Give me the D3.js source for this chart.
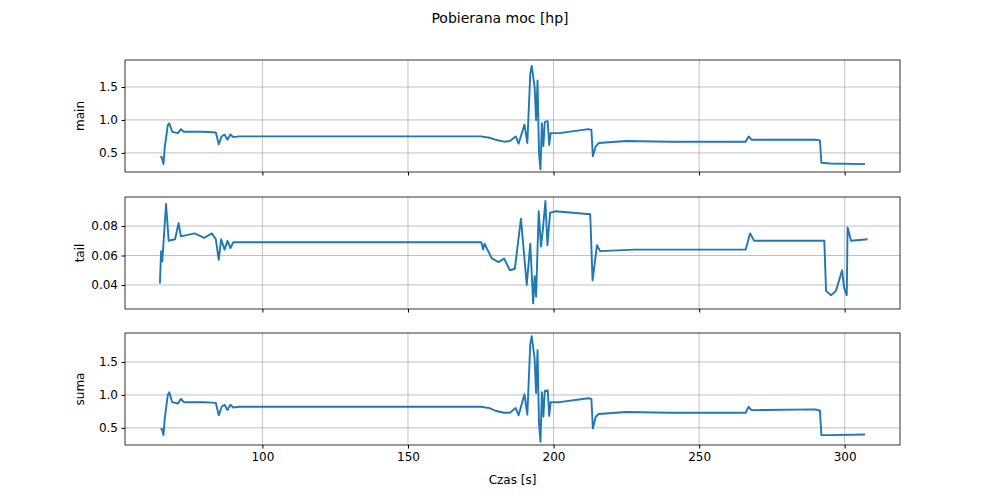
<!DOCTYPE html>
<html><head><meta charset="utf-8">
<script src="https://cdn.jsdelivr.net/npm/d3@7"></script>
<style>body{margin:0;background:#fff}text{font-family:"DejaVu Sans",sans-serif}</style>
</head><body><div id="container"></div>
<script>
// main power, time [s] / value [hp]
const mainT = [65,65.5,66,66.5,67.5,68,69,71,72,73,80,84,85,86,87,88,89,90,92,175,178,180,183,185,187,188,190,191,192,192.5,193.5,194,194.5,195,195.5,196,196.5,197,198,198.5,199,202,212,213,213.5,214.5,215.5,225,240,266,267,268,290,291.5,292,295,307];
const mainV = [0.45,0.42,0.33,0.6,0.92,0.95,0.82,0.8,0.86,0.82,0.82,0.81,0.63,0.75,0.78,0.7,0.78,0.74,0.75,0.75,0.73,0.7,0.67,0.68,0.75,0.64,0.93,0.65,1.7,1.82,1.5,1.0,1.6,0.5,0.25,0.95,0.6,0.97,0.98,0.62,0.8,0.8,0.86,0.85,0.45,0.6,0.65,0.68,0.67,0.67,0.75,0.7,0.7,0.69,0.35,0.34,0.33];

const tailT = [64.8,65.2,65.6,66.9,67.8,70,71.2,72,76.7,80,82.6,84,85,85.8,87,88,89,90,175.2,175.8,176.3,178.8,181.1,183,185,186.7,188.8,190.8,192,193,193.5,194,194.9,195.7,196.3,197.2,197.9,198.8,200.6,212.6,213.4,214.9,216,228,251,266,267.5,268.9,293,293.6,295.3,297,299.1,299.8,300.7,301,302.2,307.9];
const tailV = [0.041,0.063,0.056,0.095,0.070,0.071,0.082,0.073,0.075,0.072,0.075,0.071,0.057,0.071,0.064,0.070,0.065,0.069,0.069,0.064,0.068,0.058,0.0555,0.058,0.050,0.051,0.085,0.040,0.068,0.0275,0.046,0.032,0.090,0.066,0.077,0.097,0.067,0.089,0.090,0.088,0.043,0.067,0.063,0.064,0.064,0.064,0.075,0.070,0.070,0.036,0.033,0.036,0.050,0.038,0.033,0.079,0.070,0.071];

const sumaT = mainT;
const sumaV = [0.49,0.48,0.39,0.66,1.0,1.04,0.89,0.87,0.94,0.89,0.89,0.88,0.69,0.82,0.85,0.77,0.85,0.81,0.82,0.82,0.80,0.76,0.73,0.73,0.80,0.69,1.01,0.7,1.77,1.89,1.55,1.03,1.68,0.57,0.29,1.04,0.67,1.06,1.07,0.68,0.89,0.89,0.95,0.94,0.49,0.67,0.71,0.74,0.73,0.73,0.82,0.77,0.78,0.76,0.39,0.39,0.40];

const panels = [
  {label: "main", t: mainT, v: mainV, dom: [0.21, 1.91], ticks: [0.5, 1.0, 1.5], fmt: d3.format(".1f")},
  {label: "tail", t: tailT, v: tailV, dom: [0.0237, 0.0997], ticks: [0.04, 0.06, 0.08], fmt: d3.format(".2f")},
  {label: "suma", t: sumaT, v: sumaV, dom: [0.24, 1.94], ticks: [0.5, 1.0, 1.5], fmt: d3.format(".1f")}
];
const xTicks = [100, 150, 200, 250, 300];

const width = 1000, height = 500;
const left = 125, right = 900, ph = 112, tops = [60, 197, 333];

const svg = d3.select("#container").append("svg").attr("width", width).attr("height", height);
const x = d3.scaleLinear().domain([52.8, 319]).range([left, right]);

svg.append("text").attr("x", 500).attr("y", 23).attr("text-anchor", "middle")
  .attr("font-size", 14).text("Pobierana moc [hp]");

panels.forEach((p, i) => {
  const top = tops[i];
  const y = d3.scaleLinear().domain(p.dom).range([top + ph, top]);
  const g = svg.append("g");
  // grid
  g.selectAll(".gx").data(xTicks).join("line")
    .attr("x1", d => x(d)).attr("x2", d => x(d)).attr("y1", top).attr("y2", top + ph)
    .attr("stroke", "#b0b0b0").attr("stroke-width", 0.8);
  g.selectAll(".gy").data(p.ticks).join("line")
    .attr("x1", left).attr("x2", right).attr("y1", d => y(d)).attr("y2", d => y(d))
    .attr("stroke", "#b0b0b0").attr("stroke-width", 0.8);

  const line = d3.line().x((d, j) => x(p.t[j])).y(d => y(d));
  g.append("path").datum(p.v).attr("d", line).attr("fill", "none")
    .attr("stroke", "#1f77b4").attr("stroke-width", 1.9).attr("stroke-linejoin", "round");

  g.append("rect").attr("x", left).attr("y", top).attr("width", right - left).attr("height", ph)
    .attr("fill", "none").attr("stroke", "#000").attr("stroke-width", 0.8);

  const ya = d3.axisLeft(y).tickValues(p.ticks).tickFormat(p.fmt).tickSize(3.5).tickPadding(3.5);
  g.append("g").attr("transform", `translate(${left},0)`).call(ya)
    .call(a => a.select(".domain").remove())
    .call(a => a.selectAll("text").attr("font-size", 12).attr("fill", "#000"));

  const xa = d3.axisBottom(x).tickValues(xTicks).tickSize(3.5).tickPadding(3.5)
    .tickFormat(i == 2 ? d3.format("d") : "");
  g.append("g").attr("transform", `translate(0,${top + ph})`).call(xa)
    .call(a => a.select(".domain").remove())
    .call(a => a.selectAll("text").attr("font-size", 12).attr("fill", "#000"));

  g.append("text").attr("transform", `translate(84,${top + ph / 2}) rotate(-90)`)
    .attr("text-anchor", "middle").attr("font-size", 12).text(p.label);
});

svg.append("text").attr("x", (left + right) / 2).attr("y", 484).attr("text-anchor", "middle")
  .attr("font-size", 12).text("Czas [s]");
</script></body></html>
